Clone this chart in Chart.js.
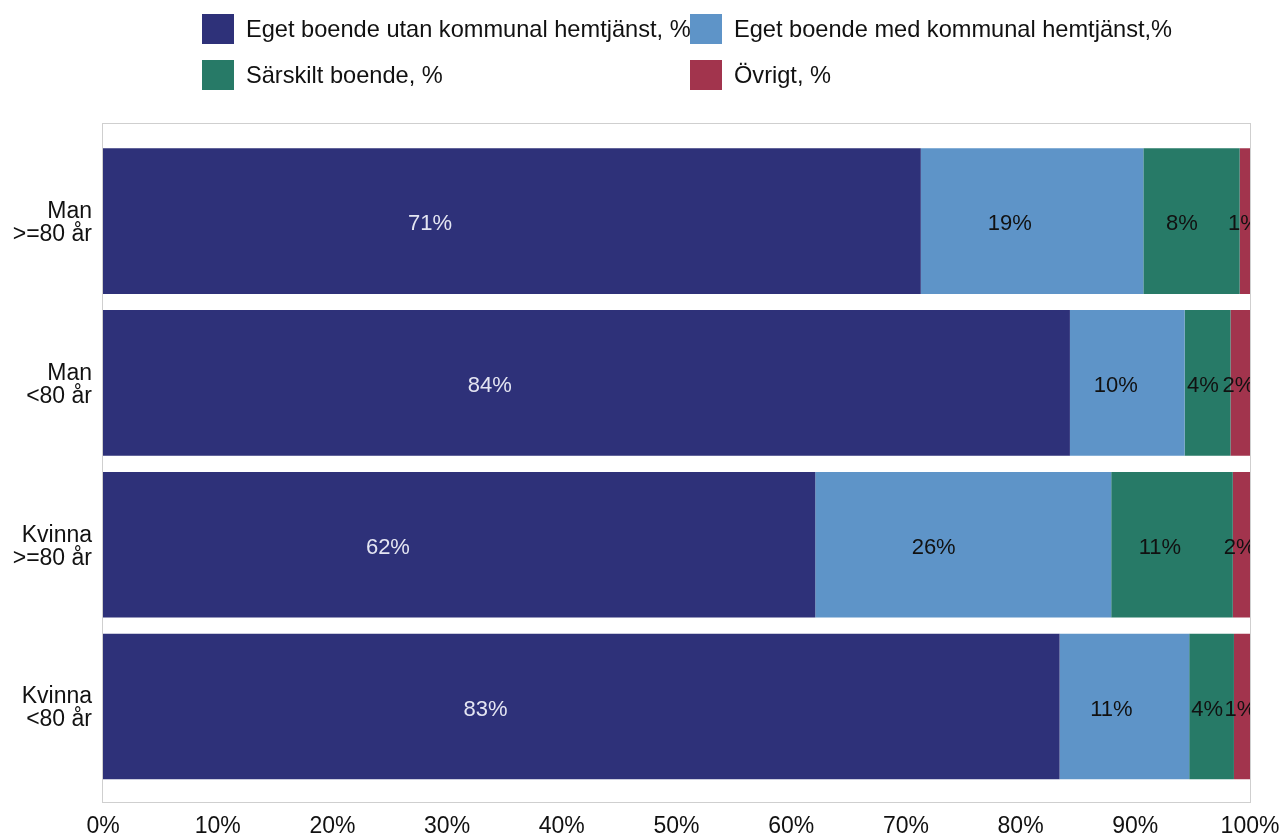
<!DOCTYPE html>
<html>
<head>
<meta charset="utf-8">
<script src="https://cdn.jsdelivr.net/npm/chart.js@4"></script>
<style>
  html, body { margin: 0; padding: 0; background: #fff; }
  #wrap { position: relative; width: 1282px; height: 834px; overflow: hidden; font-family: "Liberation Sans", Arial, sans-serif; }
  #c { position: absolute; left: 0; top: 0; }
  .lg { position: absolute; display: flex; align-items: center; height: 30px; font-size: 23.6px; color: #111; white-space: nowrap; }
  .lg .box { width: 32px; height: 30px; margin-right: 12px; flex: none; }
</style>
</head>
<body>
<div id="wrap">
  <canvas id="c" width="1282" height="834"></canvas>
  <div id="legend"></div>
</div>
<script>
// ---- data ----
const categories = [["Man", ">=80 år"], ["Man", "<80 år"], ["Kvinna", ">=80 år"], ["Kvinna", "<80 år"]];
const seriesNames = ["Eget boende utan kommunal hemtjänst, %", "Eget boende med kommunal hemtjänst,%", "Särskilt boende, %", "Övrigt, %"];
const seriesColors = ["#2E3179", "#5E94C8", "#277A67", "#A2344D"];
const labelColors = ["#E4E5F2", "#111111", "#111111", "#111111"];
const egetUtan   = [71.3, 84.3, 62.1, 83.4];
const egetMed    = [19.4, 10.0, 25.8, 11.3];
const sarskilt   = [8.4, 4.0, 10.6, 3.9];
const ovrigt     = [0.9, 1.7, 1.5, 1.4];
const xTicks = [0, 10, 20, 30, 40, 50, 60, 70, 80, 90, 100];
const seriesValues = [egetUtan, egetMed, sarskilt, ovrigt];

// ---- legend (HTML, built from series arrays) ----
const legendPos = [[202, 14], [690, 14], [202, 60], [690, 60]];
const legendEl = document.getElementById('legend');
seriesNames.forEach((n, i) => {
  const d = document.createElement('div');
  d.className = 'lg';
  d.style.left = legendPos[i][0] + 'px';
  d.style.top = legendPos[i][1] + 'px';
  d.innerHTML = '<span class="box" style="background:' + seriesColors[i] + '"></span><span>' + n + '</span>';
  legendEl.appendChild(d);
});

const FONT = "'Liberation Sans', Arial, sans-serif";

const datasets = seriesValues.map((vals, i) => ({
  label: seriesNames[i],
  data: vals.map((v, j) => ({ x: v, y: j })),
  backgroundColor: seriesColors[i],
  borderWidth: 0,
  barPercentage: 0.9,
  categoryPercentage: 1.0
}));

const frameAndLabels = {
  id: 'frameAndLabels',
  afterDatasetsDraw(chart) {
    const ctx = chart.ctx;
    const a = chart.chartArea;
    ctx.save();
    ctx.beginPath();
    ctx.rect(a.left, a.top, a.right - a.left, a.bottom - a.top);
    ctx.clip();
    ctx.font = "22px " + FONT;
    ctx.textAlign = 'center';
    ctx.textBaseline = 'middle';
    chart.data.datasets.forEach((ds, i) => {
      const meta = chart.getDatasetMeta(i);
      meta.data.forEach((el, j) => {
        const v = seriesValues[i][j];
        const px = el.base + 0.4 * (el.x - el.base);
        ctx.fillStyle = labelColors[i];
        ctx.fillText(Math.round(v) + '%', px, el.y + 3);
      });
    });
    ctx.restore();
    ctx.save();
    ctx.strokeStyle = '#CFCFCF';
    ctx.lineWidth = 1;
    ctx.strokeRect(a.left - 0.5, a.top - 0.5, a.right - a.left + 1, a.bottom - a.top + 1);
    ctx.restore();
  }
};

new Chart(document.getElementById('c'), {
  type: 'bar',
  data: { datasets },
  plugins: [frameAndLabels],
  options: {
    indexAxis: 'y',
    responsive: false,
    animation: false,
    events: [],
    layout: { padding: { top: 124, right: 32, left: 0, bottom: 0 } },
    plugins: { legend: { display: false }, tooltip: { enabled: false } },
    scales: {
      x: {
        type: 'linear',
        stacked: true,
        min: 0, max: 100,
        offset: false,
        afterBuildTicks: s => { s.ticks = xTicks.map(v => ({ value: v })); },
        afterFit: s => { s.height = 32; s.paddingLeft = 0; s.paddingRight = 0; },
        grid: { display: false, drawTicks: false, offset: false },
        border: { display: false },
        ticks: { callback: v => v + '%', font: { size: 23, family: FONT }, color: '#111', padding: 11, maxRotation: 0, autoSkip: false }
      },
      y: {
        type: 'linear',
        stacked: true,
        reverse: true,
        offset: false,
        bounds: 'data',
        min: -0.6, max: 3.59,
        afterBuildTicks: s => { s.ticks = categories.map((c, i) => ({ value: i })); },
        afterFit: s => { s.width = 103; s.paddingTop = 0; s.paddingBottom = 0; },
        grid: { display: false, drawTicks: false, offset: false },
        border: { display: false },
        ticks: { callback: v => categories[v], font: { size: 23, family: FONT, lineHeight: 1.0 }, color: '#111', padding: 11, labelOffset: 2, autoSkip: false }
      }
    }
  }
});
</script>
</body>
</html>
